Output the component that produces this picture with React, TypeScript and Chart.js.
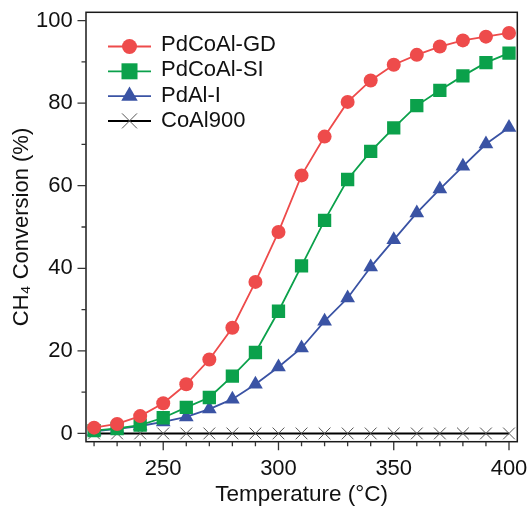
import React, { useEffect, useRef } from 'react';
import { Chart, registerables } from 'chart.js';

Chart.register(...registerables);

// ---- Data ----
const temperatures = [220, 230, 240, 250, 260, 270, 280, 290, 300, 310, 320, 330, 340, 350, 360, 370, 380, 390, 400];
const pdCoAlGD = [1.4, 2.3, 4.2, 7.3, 11.9, 17.9, 25.6, 36.7, 48.8, 62.5, 71.9, 80.3, 85.5, 89.3, 91.7, 93.7, 95.2, 96.1, 97.0];
const pdCoAlSI = [0.7, 1.2, 2.0, 3.8, 6.3, 8.7, 13.9, 19.6, 29.6, 40.6, 51.6, 61.5, 68.3, 74.0, 79.4, 83.1, 86.6, 89.8, 92.1];
const pdAlI = [0.5, 1.1, 1.8, 2.8, 4.0, 5.9, 8.3, 11.9, 16.1, 20.7, 27.2, 32.8, 40.3, 46.9, 53.4, 59.2, 64.7, 70.1, 74.1];
const coAl900 = [0, 0, 0, 0, 0, 0, 0, 0, 0, 0, 0, 0, 0, 0, 0, 0, 0, 0, 0];
const seriesLabels = ['PdCoAl-GD', 'PdCoAl-SI', 'PdAl-I', 'CoAl900'];

const xTicks = [220, 230, 240, 250, 260, 270, 280, 290, 300, 310, 320, 330, 340, 350, 360, 370, 380, 390, 400];
const xLabelTicks = [250, 300, 350, 400];
const yTicks = [0, 10, 20, 30, 40, 50, 60, 70, 80, 90, 100];
const yLabelTicks = [0, 20, 40, 60, 80, 100];

const FONT = '"Liberation Sans", Arial, Helvetica, sans-serif';
const RED = '#EE4B4B';
const GREEN = '#0BA14B';
const BLUE = '#3A53A4';
const BLACK = '#000000';
const CROSS = '#555555';

const frameAndTicks = {
  id: 'frameAndTicks',
  afterDatasetsDraw(chart: any) {
    const { ctx, chartArea: a, scales } = chart;
    const x = scales.x;
    const y = scales.y;
    ctx.save();
    ctx.strokeStyle = '#1a1a1a';
    ctx.lineWidth = 1.5;
    ctx.strokeRect(a.left, a.top, a.right - a.left, a.bottom - a.top);
    ctx.strokeStyle = '#333333';
    ctx.lineWidth = 1.3;
    ctx.beginPath();
    for (const v of xTicks) {
      const px = x.getPixelForValue(v);
      const len = xLabelTicks.includes(v) ? 8.5 : 4.5;
      ctx.moveTo(px, a.bottom);
      ctx.lineTo(px, a.bottom + len);
    }
    for (const v of yTicks) {
      const py = y.getPixelForValue(v);
      const len = yLabelTicks.includes(v) ? 8.5 : 4.5;
      ctx.moveTo(a.left, py);
      ctx.lineTo(a.left - len, py);
    }
    ctx.stroke();
    ctx.restore();
  },
};

const legendSizes: Record<string, number> = { circle: 7.5, rect: 8, triangle: 9.5, crossRot: 7.5 };

const insideLegend = {
  id: 'insideLegend',
  afterDatasetsDraw(chart: any) {
    const { ctx } = chart;
    const ds = chart.data.datasets;
    ctx.save();
    ds.forEach((d: any, i: number) => {
      const my = 46.5 + i * 24.8;
      const ty = 44.8 + i * 25.4;
      const x0 = 108;
      const x1 = 151;
      const cx = (x0 + x1) / 2;
      ctx.strokeStyle = d.borderColor;
      ctx.lineWidth = d.borderWidth;
      ctx.beginPath();
      ctx.moveTo(x0, my);
      ctx.lineTo(x1, my);
      ctx.stroke();
      const r = legendSizes[d.pointStyle] ?? 7;
      ctx.fillStyle = d.pointBackgroundColor;
      if (d.pointStyle === 'circle') {
        ctx.beginPath();
        ctx.arc(cx, my, r, 0, Math.PI * 2);
        ctx.fill();
      } else if (d.pointStyle === 'rect') {
        ctx.fillRect(cx - r, my - r, 2 * r, 2 * r);
      } else if (d.pointStyle === 'triangle') {
        ctx.beginPath();
        ctx.moveTo(cx, my - r);
        ctx.lineTo(cx + r * Math.sin((2 * Math.PI) / 3), my - r * Math.cos((2 * Math.PI) / 3));
        ctx.lineTo(cx + r * Math.sin((4 * Math.PI) / 3), my - r * Math.cos((4 * Math.PI) / 3));
        ctx.closePath();
        ctx.fill();
      } else if (d.pointStyle === 'crossRot') {
        ctx.strokeStyle = d.pointBorderColor;
        ctx.lineWidth = 1;
        ctx.beginPath();
        ctx.moveTo(cx - r, my - r);
        ctx.lineTo(cx + r, my + r);
        ctx.moveTo(cx + r, my - r);
        ctx.lineTo(cx - r, my + r);
        ctx.stroke();
      }
      ctx.fillStyle = '#111111';
      ctx.font = `22px ${FONT}`;
      ctx.textBaseline = 'middle';
      ctx.textAlign = 'left';
      ctx.fillText(d.label, 161, ty);
    });
    ctx.restore();
  },
};

export default function App() {
  const canvasRef = useRef<HTMLCanvasElement | null>(null);

  useEffect(() => {
    if (!canvasRef.current) return;
    const mk = (data: number[]) => data.map((v, i) => ({ x: temperatures[i], y: v }));
    const chart = new Chart(canvasRef.current, {
      type: 'line',
      data: {
        datasets: [
          {
            label: seriesLabels[0],
            data: mk(pdCoAlGD),
            borderColor: RED,
            backgroundColor: RED,
            pointBackgroundColor: RED,
            pointBorderColor: RED,
            pointStyle: 'circle',
            pointRadius: 7,
            pointBorderWidth: 0,
            borderWidth: 1.8,
          },
          {
            label: seriesLabels[1],
            data: mk(pdCoAlSI),
            borderColor: GREEN,
            backgroundColor: GREEN,
            pointBackgroundColor: GREEN,
            pointBorderColor: GREEN,
            pointStyle: 'rect',
            pointRadius: 9.4,
            pointBorderWidth: 0,
            borderWidth: 1.8,
          },
          {
            label: seriesLabels[2],
            data: mk(pdAlI),
            borderColor: BLUE,
            backgroundColor: BLUE,
            pointBackgroundColor: BLUE,
            pointBorderColor: BLUE,
            pointStyle: 'triangle',
            pointRadius: 8.5,
            pointBorderWidth: 0,
            borderWidth: 1.8,
          },
          {
            label: seriesLabels[3],
            data: mk(coAl900),
            borderColor: BLACK,
            backgroundColor: CROSS,
            pointBackgroundColor: CROSS,
            pointBorderColor: CROSS,
            pointStyle: 'crossRot',
            pointRadius: 8.3,
            pointBorderWidth: 1,
            borderWidth: 2,
          },
        ] as any,
      },
      options: {
        responsive: true,
        maintainAspectRatio: false,
        animation: false,
        events: [],
        layout: { padding: { top: 12.3, right: 10.7, left: 0, bottom: 0 } },
        plugins: {
          legend: { display: false },
          tooltip: { enabled: false },
        },
        scales: {
          x: {
            type: 'linear',
            min: 216.5,
            max: 403.6,
            grid: { display: false, drawTicks: false },
            border: { display: false },
            ticks: {
              stepSize: 10,
              includeBounds: false,
              autoSkip: false,
              maxRotation: 0,
              padding: 14.3,
              color: '#111111',
              font: { size: 22, family: FONT },
              callback: (v: any) => (xLabelTicks.includes(Number(v)) ? String(v) : ''),
            },
            title: {
              display: true,
              text: 'Temperature (°C)',
              color: '#111111',
              font: { size: 22.5, family: FONT, lineHeight: 1 },
              padding: { top: 0, bottom: 1.5 },
            },
            afterFit: (s: any) => {
              s.height = 66.3;
              s.paddingLeft = 0;
              s.paddingRight = 0;
            },
          },
          y: {
            type: 'linear',
            min: -2,
            max: 102,
            grid: { display: false, drawTicks: false },
            border: { display: false },
            ticks: {
              stepSize: 10,
              includeBounds: false,
              autoSkip: false,
              padding: 13.3,
              color: '#111111',
              font: { size: 22, family: FONT },
              callback: (v: any) => (yLabelTicks.includes(Number(v)) ? String(v) : ''),
            },
            title: {
              display: true,
              text: 'CH₄ Conversion (%)',
              color: '#111111',
              font: { size: 22, family: FONT, lineHeight: 1 },
              padding: { top: 11, bottom: 0 },
            },
            afterFit: (s: any) => {
              s.width = 86;
              s.paddingTop = 0;
              s.paddingBottom = 0;
            },
          },
        },
      } as any,
      plugins: [frameAndTicks, insideLegend],
    });
    return () => chart.destroy();
  }, []);

  return (
    <div style={{ position: 'fixed', left: 0, top: 0, width: 528, height: 508, background: '#ffffff' }}>
      <canvas ref={canvasRef} />
    </div>
  );
}
